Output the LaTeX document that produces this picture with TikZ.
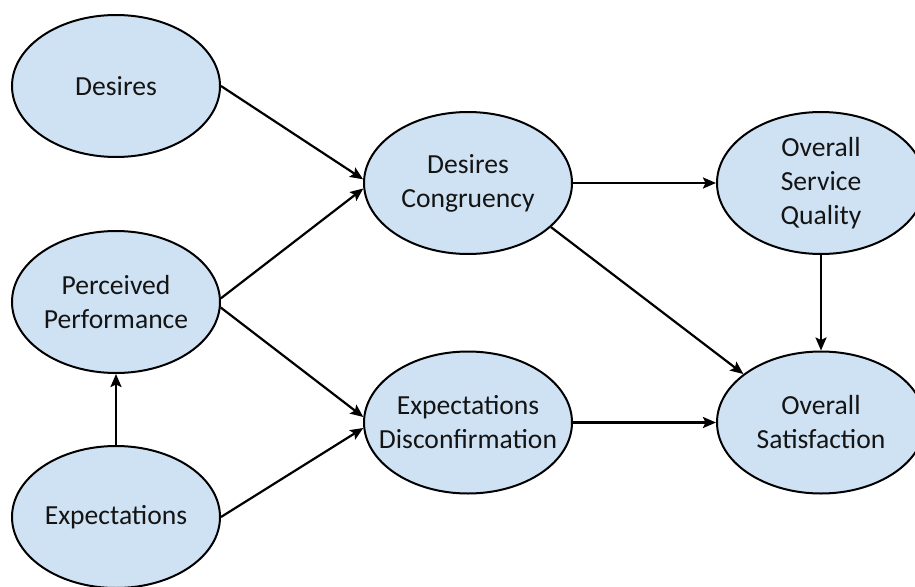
\documentclass[tikz,border=0pt]{standalone}
\usepackage{fontspec}
\setmainfont{Carlito}
\usetikzlibrary{shapes.geometric,arrows.meta}
\definecolor{bubblefill}{HTML}{CFE2F3}
\definecolor{inktext}{HTML}{141414}
\tikzset{
  bubble/.style={ellipse, draw=black, line width=2pt, fill=bubblefill,
    minimum width=208pt, minimum height=142pt,
    inner xsep=-40pt, inner ysep=-25pt,
    align=center, text=inktext, font=\fontsize{27.6}{34}\selectfont},
  link/.style={draw=black, line width=2.2pt,
    -{Stealth[length=13pt,width=11pt,inset=2.5pt]}}
}
\begin{document}
\begin{tikzpicture}[x=1pt,y=-1pt]
  \useasboundingbox (0,0) rectangle (915,586);
  \clip (0,0) rectangle (915,586);
  % left column
  \node[bubble] (des)  at (116,86)  {Desires};
  \node[bubble] (perf) at (116,302) {Perceived\\Performance};
  \node[bubble] (exp)  at (116,517) {Expectations};
  % middle column
  \node[bubble] (dc) at (468,183)   {Desires\\Congruency};
  \node[bubble] (ed) at (468,422.5) {Expectations\\Disconfirmation};
  % right column
  \node[bubble] (osq) at (821,183)   {Overall\\Service\\Quality};
  \node[bubble] (os)  at (821,422.5) {Overall\\Satisfaction};
  % connectors
  \draw[link] (des.east) -- (dc.178);
  \draw[link] (perf.2) -- (dc.183);
  \draw[link] (perf.-3) -- (ed.177);
  \draw[link] (exp.east) -- (ed.183);
  \draw[link] (exp.north) -- (perf.south);
  \draw[link] (dc.east) -- (osq.west);
  \draw[link] (dc.-28) -- (os.148);
  \draw[link] (osq.south) -- (os.north);
  \draw[link] (ed.east) -- (os.west);
\end{tikzpicture}
\end{document}
